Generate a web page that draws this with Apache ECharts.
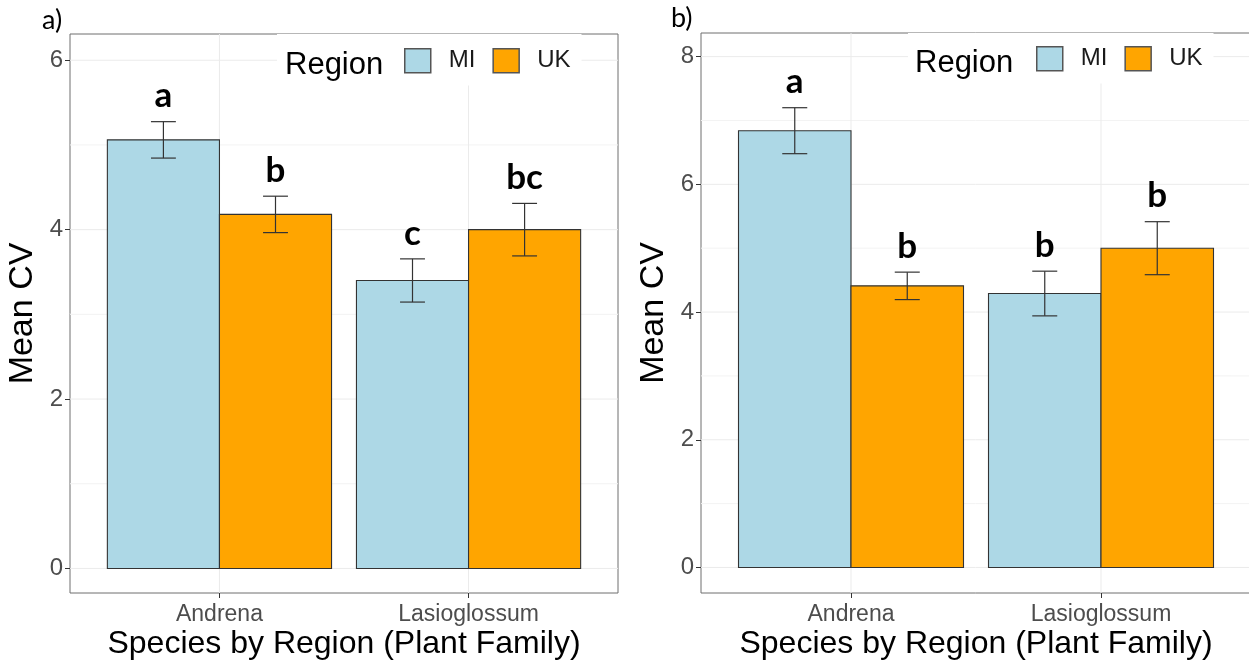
<!DOCTYPE html>
<html>
  <head>
    <meta charset="utf-8" />
    <title>Mean CV by species and region</title>
    <script src="https://cdn.jsdelivr.net/npm/echarts@6/dist/echarts.min.js"></script>
  </head>
  <body style="margin:0;">
    <div id="main" style="width:1249px;height:662px;"></div>
    <script type="text/javascript">
      // categories
      const species = ["Andrena", "Lasioglossum"];
      const regions = ["MI", "UK"];
      const regionColors = ["#ADD8E6", "#FFA500"];

      // panel a) means, standard errors and letters
      const aMeanMI = [5.06, 3.4];
      const aSeMI = [0.215, 0.255];
      const aLetterMI = ["a", "c"];
      const aMeanUK = [4.18, 4.0];
      const aSeUK = [0.215, 0.31];
      const aLetterUK = ["b", "bc"];

      // panel b)
      const bMeanMI = [6.84, 4.29];
      const bSeMI = [0.36, 0.35];
      const bLetterMI = ["a", "b"];
      const bMeanUK = [4.41, 5.0];
      const bSeUK = [0.215, 0.415];
      const bLetterUK = ["b", "b"];

      // tick values
      const aTicks = [0, 2, 4, 6];
      const aMinor = [1, 3, 5];
      const bTicks = [0, 2, 4, 6, 8];
      const bMinor = [1, 3, 5, 7];
      const xTicks = [1, 2];

      const font = "Liberation Sans";

      const myChart = echarts.init(document.getElementById("main"));

      // gridlines drawn through the axes (kind: 0 major, 1 minor, 2 vertical)
      function gridSeries(idx, major, minor) {
        const data = []
          .concat(major.map(v => [v, 0]))
          .concat(minor.map(v => [v, 1]))
          .concat(xTicks.map(v => [v, 2]));
        return {
          type: "custom",
          xAxisIndex: idx,
          yAxisIndex: idx,
          z: 1,
          silent: true,
          data: data,
          renderItem: function(params, api) {
            const cs = params.coordSys;
            const v = api.value(0);
            const kind = api.value(1);
            if (kind === 2) {
              const x = api.coord([v, 0])[0];
              return {
                type: "line",
                shape: { x1: x, y1: cs.y, x2: x, y2: cs.y + cs.height },
                style: { stroke: "#ebebeb", lineWidth: 1 },
              };
            }
            const y = api.coord([1, v])[1];
            return {
              type: "line",
              shape: { x1: cs.x, y1: y, x2: cs.x + cs.width, y2: y },
              style: { stroke: kind === 0 ? "#ebebeb" : "#f3f3f3", lineWidth: 1 },
            };
          },
        };
      }

      // bars + error bars + letters
      function barSeries(idx, name, means, ses, letters, offset, color) {
        return {
          type: "custom",
          name: name,
          xAxisIndex: idx,
          yAxisIndex: idx,
          z: 2,
          itemStyle: { color: color },
          data: means.map((m, i) => [i + 1, m, ses[i]]),
          renderItem: function(params, api) {
            const x = api.value(0) + offset;
            const m = api.value(1);
            const se = api.value(2);
            const tl = api.coord([x - 0.225, m]);
            const br = api.coord([x + 0.225, 0]);
            const hi = api.coord([x, m + se]);
            const lo = api.coord([x, m - se]);
            const c0 = api.coord([x - 0.05, m])[0];
            const c1 = api.coord([x + 0.05, m])[0];
            const line = { stroke: "#333", lineWidth: 1.2 };
            return {
              type: "group",
              children: [
                {
                  type: "rect",
                  shape: { x: tl[0], y: tl[1], width: br[0] - tl[0], height: br[1] - tl[1] },
                  style: { fill: color, stroke: "#333", lineWidth: 1.1 },
                },
                { type: "line", shape: { x1: hi[0], y1: hi[1], x2: lo[0], y2: lo[1] }, style: line },
                { type: "line", shape: { x1: c0, y1: hi[1], x2: c1, y2: hi[1] }, style: line },
                { type: "line", shape: { x1: c0, y1: lo[1], x2: c1, y2: lo[1] }, style: line },
                {
                  type: "text",
                  style: {
                    text: letters[params.dataIndex],
                    x: hi[0],
                    y: hi[1] - 8,
                    align: "center",
                    verticalAlign: "bottom",
                    font: "bold 35px Lato",
                    fill: "#000",
                  },
                },
              ],
            };
          },
        };
      }

      function xAxis(idx) {
        return {
          type: "value",
          gridIndex: idx,
          min: 0.4,
          max: 2.6,
          name: "Species by Region (Plant Family)",
          nameLocation: "middle",
          nameGap: 35,
          nameMoveOverlap: false,
          nameTextStyle: { fontFamily: font, fontSize: 32, color: "#000" },
          axisLine: { show: false, onZero: false },
          axisTick: { show: true, length: 5, customValues: xTicks, lineStyle: { color: "#333" } },
          axisLabel: {
            customValues: xTicks,
            margin: 10,
            fontFamily: font,
            fontSize: 23,
            color: "#4d4d4d",
            formatter: v => species[Math.round(v) - 1],
          },
          splitLine: { show: false },
        };
      }

      function yAxis(idx, min, max, ticks) {
        return {
          type: "value",
          gridIndex: idx,
          min: min,
          max: max,
          name: "Mean CV",
          nameLocation: "middle",
          nameGap: 30,
          nameMoveOverlap: false,
          nameTextStyle: { fontFamily: font, fontSize: 34, color: "#000" },
          axisLine: { show: false, onZero: false },
          axisTick: { show: true, length: 5, customValues: ticks, lineStyle: { color: "#333" } },
          axisLabel: {
            customValues: ticks,
            margin: 7,
            fontFamily: font,
            fontSize: 24,
            color: "#4d4d4d",
          },
          splitLine: { show: false },
        };
      }

      function legend(left, top, padLeft, padTop) {
        return {
          left: left,
          top: top,
          orient: "horizontal",
          selectedMode: false,
          backgroundColor: "#fff",
          padding: [padTop, 11, 12, padLeft],
          itemWidth: 26,
          itemHeight: 24,
          itemGap: 17,
          icon: "rect",
          textStyle: { fontFamily: font, fontSize: 24, color: "#1a1a1a", padding: [0, 0, 0, 13] },
          data: regions.map((r, i) => ({
            name: r,
            itemStyle: { color: regionColors[i], borderColor: "#555", borderWidth: 1.5 },
          })),
        };
      }

      const option = {
        animation: false,
        backgroundColor: "#fff",
        grid: [
          { left: 70, top: 34, width: 548, height: 559, show: true, borderColor: "#6e6e6e", borderWidth: 1, outerBoundsMode: "none" },
          { left: 701, top: 33, width: 550, height: 560, show: true, borderColor: "#6e6e6e", borderWidth: 1, outerBoundsMode: "none" },
        ],
        xAxis: [xAxis(0), xAxis(1)],
        yAxis: [yAxis(0, -0.29, 6.31, aTicks), yAxis(1, -0.4, 8.37, bTicks)],
        legend: [legend(277, 34, 127, 14), legend(908, 33, 128, 13)],
        graphic: [
          { type: "text", left: 42, top: 7, style: { text: "a)", font: "27px Lato", fill: "#000" } },
          { type: "text", left: 671, top: 5, style: { text: "b)", font: "27px Lato", fill: "#000" } },
          { type: "text", left: 285, top: 50, z: 10, style: { text: "Region", font: "31px " + font, fill: "#000" } },
          { type: "text", left: 915, top: 48, z: 10, style: { text: "Region", font: "31px " + font, fill: "#000" } },
        ],
        series: [
          gridSeries(0, aTicks, aMinor),
          gridSeries(1, bTicks, bMinor),
          barSeries(0, "MI", aMeanMI, aSeMI, aLetterMI, -0.225, regionColors[0]),
          barSeries(0, "UK", aMeanUK, aSeUK, aLetterUK, 0.225, regionColors[1]),
          barSeries(1, "MI", bMeanMI, bSeMI, bLetterMI, -0.225, regionColors[0]),
          barSeries(1, "UK", bMeanUK, bSeUK, bLetterUK, 0.225, regionColors[1]),
        ],
      };
      myChart.setOption(option);
    </script>
  </body>
</html>
